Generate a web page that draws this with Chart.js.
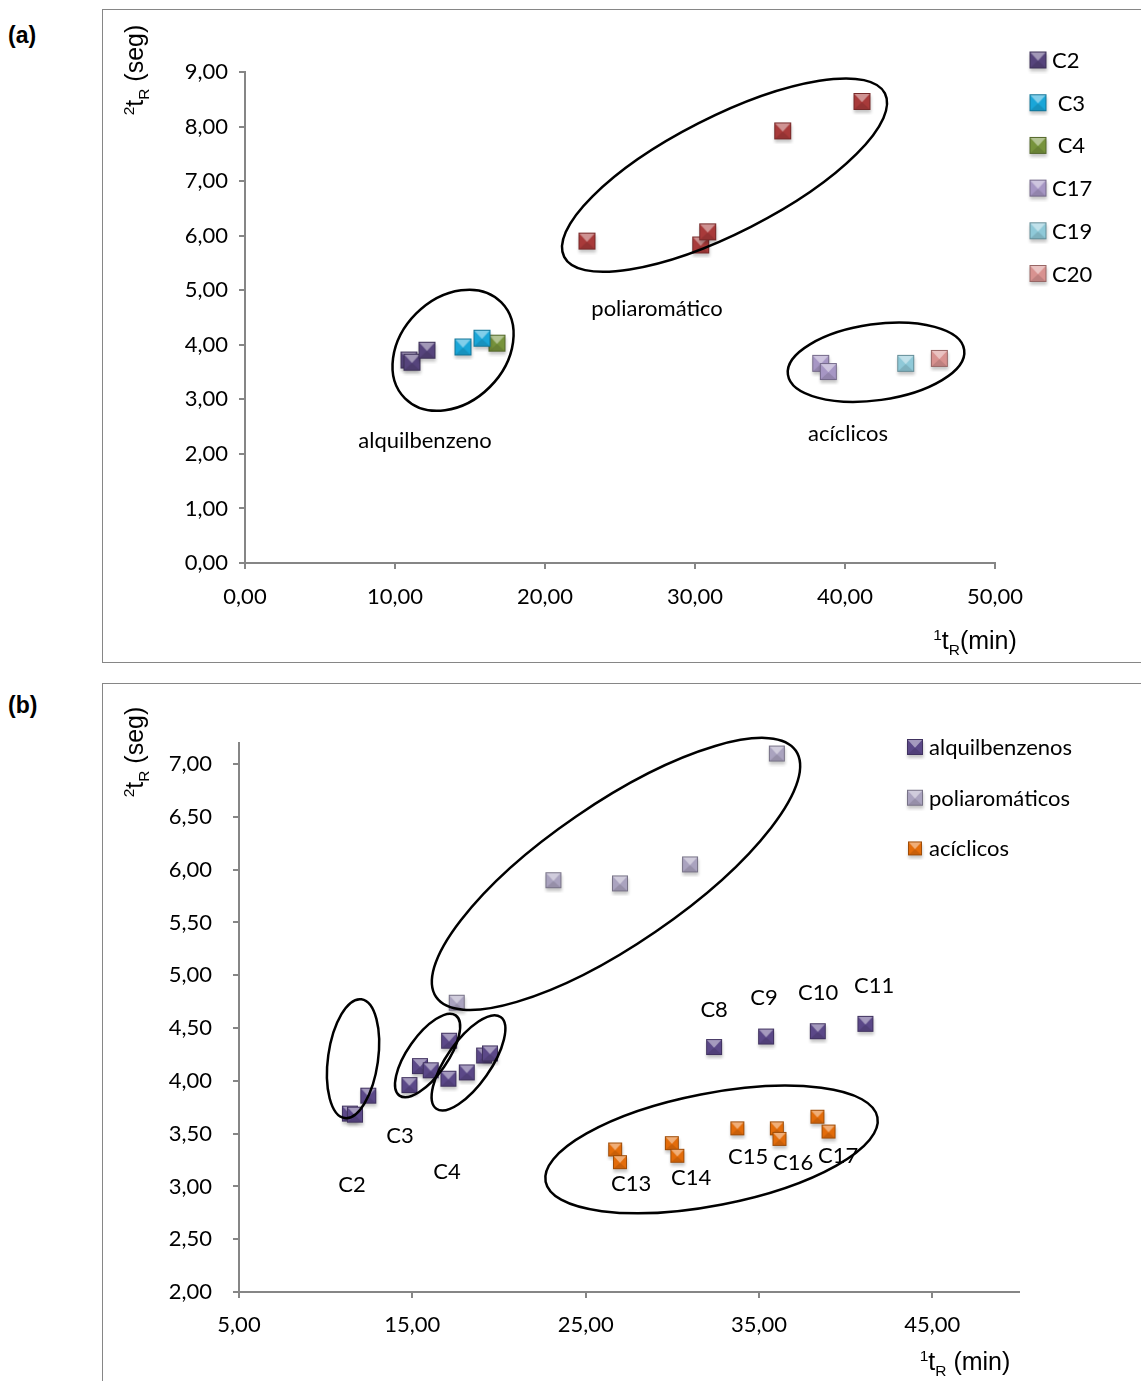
<!DOCTYPE html>
<html>
<head>
<meta charset="utf-8">
<script src="https://cdn.jsdelivr.net/npm/chart.js@4.4.1/dist/chart.umd.min.js"></script>
<style>
  body { margin: 0; width: 1141px; height: 1381px; background: #fff; position: relative; overflow: hidden; }
  .tag { position: absolute; left: 8px; font: bold 23px "Liberation Sans", Arial, sans-serif; color: #000; }
  .frame { position: absolute; left: 102px; width: 1040px; border: 1.5px solid #868686; box-sizing: border-box; }
  canvas { position: absolute; left: 103px; }
</style>
</head>
<body>
<div class="tag" style="top:22px">(a)</div>
<div class="tag" style="top:692px">(b)</div>
<div class="frame" style="top:9px; height:654px"></div>
<div class="frame" style="top:683px; height:720px"></div>
<canvas id="chartA" width="1038" height="652" style="top:10px"></canvas>
<canvas id="chartB" width="1038" height="697" style="top:684px"></canvas>
<script>
// ---- chart (a) data: x = 1tR (min), y = 2tR (seg)
var aC2X = [10.93, 11.13, 12.13];
var aC2Y = [3.72, 3.68, 3.90];
var aC3X = [14.53, 15.80];
var aC3Y = [3.96, 4.12];
var aC4X = [16.80];
var aC4Y = [4.03];
var aPolyX = [22.80, 30.38, 30.85, 35.85, 41.13];
var aPolyY = [5.90, 5.83, 6.07, 7.92, 8.46];
var aC17X = [38.38, 38.89];
var aC17Y = [3.66, 3.51];
var aC19X = [44.05];
var aC19Y = [3.66];
var aC20X = [46.29];
var aC20Y = [3.75];
var aXTicks = [0, 10, 20, 30, 40, 50];
var aYTicks = [0, 1, 2, 3, 4, 5, 6, 7, 8, 9];

// ---- chart (b) data
var bAlqX = [11.40, 11.69, 12.46, 14.83, 15.44, 16.06, 17.12, 17.08, 18.14, 19.14, 19.48, 32.41, 35.41, 38.39, 41.14];
var bAlqY = [3.69, 3.68, 3.86, 3.96, 4.14, 4.10, 4.38, 4.02, 4.08, 4.24, 4.26, 4.32, 4.42, 4.47, 4.54];
var bPolyX = [17.56, 23.14, 26.98, 31.02, 36.03];
var bPolyY = [4.74, 5.90, 5.87, 6.05, 7.10];
var bAcyX = [26.70, 26.98, 29.97, 30.29, 33.75, 36.03, 36.18, 38.37, 39.01];
var bAcyY = [3.35, 3.23, 3.41, 3.29, 3.55, 3.55, 3.45, 3.66, 3.52];
var bXTicks = [5, 15, 25, 35, 45];
var bYTicks = [2, 2.5, 3, 3.5, 4, 4.5, 5, 5.5, 6, 6.5, 7];

var axisGray = '#868686';
var tickFont = { family: 'Lato', size: 22 };

function pts(xs, ys) {
  return xs.map(function(x, i) { return { x: x, y: ys[i] }; });
}

function comma(v) {
  return Number(v).toFixed(2).replace('.', ',');
}

// mix hex colour with white (amt > 0) or black (amt < 0)
function shade(hex, amt) {
  var n = parseInt(hex.slice(1), 16);
  var rgb = [(n >> 16) & 255, (n >> 8) & 255, n & 255];
  var t = amt > 0 ? 255 : 0;
  var a = Math.abs(amt);
  return 'rgb(' + rgb.map(function(c) { return Math.round(c + (t - c) * a); }).join(',') + ')';
}

// excel-like bevelled square marker
function marker(color, size) {
  var pad = 5;
  var c = document.createElement('canvas');
  c.width = size + pad * 2;
  c.height = size + pad * 2;
  var g = c.getContext('2d');
  var x0 = pad, y0 = pad, s = size, cx = pad + s / 2, cy = pad + s * 0.55;
  g.filter = 'blur(1.5px)';
  g.fillStyle = 'rgba(0,0,0,0.22)';
  g.fillRect(x0 + 0.5, y0 + 3, s, s);
  g.filter = 'none';
  g.fillStyle = color;
  g.fillRect(x0, y0, s, s);
  g.fillStyle = shade(color, 0.45);
  g.beginPath(); g.moveTo(x0, y0); g.lineTo(x0 + s, y0); g.lineTo(cx, cy); g.closePath(); g.fill();
  g.fillStyle = shade(color, -0.12);
  g.beginPath(); g.moveTo(x0, y0 + s); g.lineTo(x0 + s, y0 + s); g.lineTo(cx, cy); g.closePath(); g.fill();
  g.strokeStyle = shade(color, -0.3);
  g.lineWidth = 1;
  g.strokeRect(x0 + 0.5, y0 + 0.5, s - 1, s - 1);
  return c;
}

// text with super/subscript parts
function richText(ctx, parts, x, y, size, family) {
  var w = 0;
  parts.forEach(function(p) {
    ctx.font = (p.sup || p.sub ? size * 0.62 : size) + 'px ' + family;
    p.w = ctx.measureText(p.t).width;
    w += p.w;
  });
  var px = x - w / 2;
  ctx.textAlign = 'left';
  ctx.textBaseline = 'alphabetic';
  parts.forEach(function(p) {
    ctx.font = (p.sup || p.sub ? size * 0.62 : size) + 'px ' + family;
    var dy = p.sup ? -size * 0.38 : (p.sub ? size * 0.22 : 0);
    ctx.fillText(p.t, px, y + dy);
    px += p.w;
  });
}

// ellipses, notes, legend and axis titles
var extras = {
  id: 'extras',
  afterDatasetsDraw: function(chart, args, o) {
    var ctx = chart.ctx;
    var sx = chart.scales.x, sy = chart.scales.y;
    ctx.save();
    ctx.strokeStyle = '#000';
    ctx.lineWidth = 2.5;
    o.rings.forEach(function(r) {
      ctx.beginPath();
      ctx.ellipse(sx.getPixelForValue(r.x), sy.getPixelForValue(r.y), r.rx, r.ry, r.rot * Math.PI / 180, 0, Math.PI * 2);
      ctx.stroke();
    });
    ctx.fillStyle = '#000';
    ctx.font = '22px Lato';
    ctx.textAlign = 'center';
    ctx.textBaseline = 'middle';
    o.notes.forEach(function(n) {
      ctx.fillText(n.text, sx.getPixelForValue(n.x), sy.getPixelForValue(n.y));
    });
    // legend
    o.legend.items.forEach(function(it, i) {
      var y = o.legend.y + i * o.legend.step;
      ctx.drawImage(it.img, o.legend.x - it.img.width / 2, y - it.img.height / 2);
      ctx.font = '22px Lato';
      ctx.textAlign = 'left';
      ctx.textBaseline = 'middle';
      ctx.fillText(it.label, o.legend.tx, y + 1);
    });
    // axis titles
    ctx.save();
    ctx.translate(o.yTitle.x, o.yTitle.y);
    ctx.rotate(-Math.PI / 2);
    richText(ctx, [{ t: '2', sup: true }, { t: 't' }, { t: 'R', sub: true }, { t: ' (seg)' }], 0, 0, 25, '"Liberation Sans", Arial');
    ctx.restore();
    richText(ctx, [{ t: '1', sup: true }, { t: 't' }, { t: 'R', sub: true }, { t: o.xTitle.text }], o.xTitle.x, o.xTitle.y, 25, '"Liberation Sans", Arial');
    ctx.restore();
  }
};

function axis(min, max, tickList, size, pad, prop) {
  return {
    type: 'linear',
    min: min,
    max: max,
    afterBuildTicks: function(s) { s.ticks = tickList.map(function(v) { return { value: v }; }); },
    afterFit: function(s) { s[prop] = size; },
    ticks: { font: tickFont, color: '#000', padding: pad, callback: comma, autoSkip: false, maxRotation: 0 },
    grid: { drawOnChartArea: false, drawTicks: true, tickLength: 6, color: axisGray, lineWidth: 2 },
    border: { display: true, color: axisGray, width: 2 },
    title: { display: false }
  };
}

// ---- chart (a)
var mC2 = marker('#56447c', 17);
var mC3 = marker('#1aa6d8', 17);
var mC4 = marker('#77933c', 17);
var mPoly = marker('#a83a3a', 17);
var mC17 = marker('#a696c4', 17);
var mC19 = marker('#8fc9d8', 17);
var mC20 = marker('#d89290', 17);

function ds(label, data, img) {
  return { label: label, data: data, pointStyle: img, pointRadius: 9, showLine: false };
}

new Chart(document.getElementById('chartA'), {
  type: 'scatter',
  data: {
    datasets: [
      ds('C2', pts(aC2X, aC2Y), mC2),
      ds('C3', pts(aC3X, aC3Y), mC3),
      ds('C4', pts(aC4X, aC4Y), mC4),
      ds('poliaromático', pts(aPolyX, aPolyY), mPoly),
      ds('C17', pts(aC17X, aC17Y), mC17),
      ds('C19', pts(aC19X, aC19Y), mC19),
      ds('C20', pts(aC20X, aC20Y), mC20)
    ]
  },
  options: {
    responsive: false,
    animation: false,
    devicePixelRatio: 1,
    layout: { padding: { left: 0, right: 146, top: 62, bottom: 0 } },
    scales: {
      x: axis(0, 50, aXTicks, 99, 15, 'height'),
      y: axis(0, 9, aYTicks, 142, 11, 'width')
    },
    plugins: {
      legend: { display: false },
      tooltip: { enabled: false },
      extras: {
        rings: [
          { x: 13.87, y: 3.90, rx: 68, ry: 52, rot: -45 },
          { x: 31.97, y: 7.11, rx: 180, ry: 58, rot: -27 },
          { x: 42.07, y: 3.68, rx: 89, ry: 38, rot: -8 }
        ],
        notes: [
          { text: 'poliaromático', x: 27.47, y: 4.66 },
          { text: 'alquilbenzeno', x: 12.0, y: 2.24 },
          { text: 'acíclicos', x: 40.2, y: 2.36 }
        ],
        legend: {
          x: 935, y: 50, step: 42.7, tx: 949,
          items: [
            { label: 'C2', img: mC2 }, { label: ' C3', img: mC3 }, { label: ' C4', img: mC4 },
            { label: 'C17', img: mC17 }, { label: 'C19', img: mC19 }, { label: 'C20', img: mC20 }
          ]
        },
        yTitle: { x: 40, y: 60 },
        xTitle: { text: '(min)', x: 872, y: 639 }
      }
    }
  },
  plugins: [extras]
});

// ---- chart (b)
var mAlq = marker('#5b4888', 16);
var mPolyB = marker('#aaa3bf', 16);
var mAcy = marker('#e36c0a', 14);

new Chart(document.getElementById('chartB'), {
  type: 'scatter',
  data: {
    datasets: [
      ds('alquilbenzenos', pts(bAlqX, bAlqY), mAlq),
      ds('poliaromáticos', pts(bPolyX, bPolyY), mPolyB),
      ds('acíclicos', pts(bAcyX, bAcyY), mAcy)
    ]
  },
  options: {
    responsive: false,
    animation: false,
    devicePixelRatio: 1,
    layout: { padding: { left: 0, right: 122, top: 59, bottom: 0 } },
    scales: {
      x: axis(5, 50, bXTicks, 89, 14, 'height'),
      y: axis(2, 7.2, bYTicks, 136, 21, 'width')
    },
    plugins: {
      legend: { display: false },
      tooltip: { enabled: false },
      extras: {
        rings: [
          { x: 11.58, y: 4.21, rx: 60, ry: 25, rot: -82 },
          { x: 15.88, y: 4.24, rx: 49, ry: 20, rot: -55 },
          { x: 18.24, y: 4.17, rx: 56, ry: 22, rot: -55 },
          { x: 26.75, y: 5.96, rx: 218, ry: 70, rot: -34.4 },
          { x: 32.26, y: 3.35, rx: 169, ry: 56, rot: -11 }
        ],
        notes: [
          { text: 'C2', x: 11.52, y: 3.01 }, { text: 'C3', x: 14.29, y: 3.48 }, { text: 'C4', x: 17.0, y: 3.14 },
          { text: 'C8', x: 32.41, y: 4.67 }, { text: 'C9', x: 35.29, y: 4.79 }, { text: 'C10', x: 38.41, y: 4.83 },
          { text: 'C11', x: 41.64, y: 4.90 }, { text: 'C13', x: 27.62, y: 3.02 }, { text: 'C14', x: 31.08, y: 3.08 },
          { text: 'C15', x: 34.37, y: 3.28 }, { text: 'C16', x: 36.97, y: 3.22 }, { text: 'C17', x: 39.56, y: 3.29 }
        ],
        legend: {
          x: 812, y: 63, step: 50.7, tx: 826,
          items: [
            { label: 'alquilbenzenos', img: mAlq }, { label: 'poliaromáticos', img: mPolyB }, { label: 'acíclicos', img: mAcy }
          ]
        },
        yTitle: { x: 40, y: 68 },
        xTitle: { text: ' (min)', x: 862, y: 686 }
      }
    }
  },
  plugins: [extras]
});
</script>
</body>
</html>
